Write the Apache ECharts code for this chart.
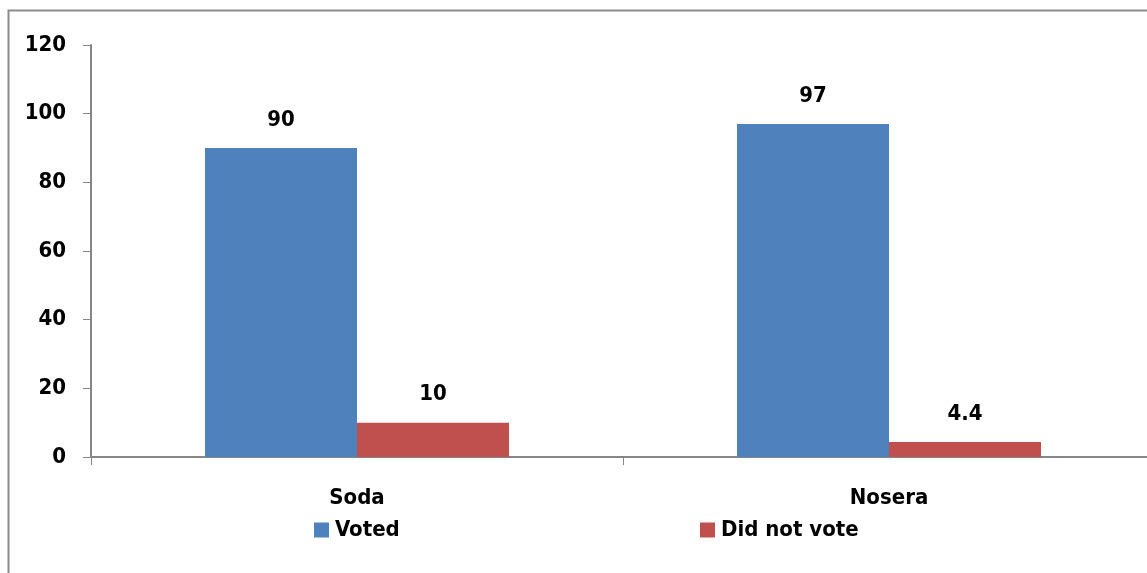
<!DOCTYPE html>
<html><head><meta charset="utf-8">
<script src="https://cdn.jsdelivr.net/npm/echarts@6/dist/echarts.min.js"></script>
<style>html,body{margin:0;padding:0;background:#fff;overflow:hidden}#c{width:1155px;height:573px}</style>
</head><body><div id="c"></div>
<script>
const categories = ['Soda', 'Nosera'];
const seriesNames = ['Voted', 'Did not vote'];
const voted = [90, 97];
const didNotVote = [10, 4.4];
const yTicks = [0, 20, 40, 60, 80, 100, 120];

const FONT = "'DejaVu Sans Condensed', 'Liberation Sans Narrow', 'Liberation Sans', sans-serif";
const chart = echarts.init(document.getElementById('c'));
const labelStyle = {show: true, position: 'top', distance: 17, color: '#000', fontFamily: FONT, fontWeight: 'bold', fontSize: 22};
const legendText = {fontFamily: FONT, fontWeight: 'bold', fontSize: 22, color: '#000', padding: [0,0,0,1]};
chart.setOption({
  animation: false,
  textStyle: {fontFamily: FONT},
  graphic: [{type: 'rect', shape: {x: 8.5, y: 10.5, width: 1200, height: 600}, style: {fill: 'none', stroke: '#8c8c8c', lineWidth: 2}}],
  legend: [
    {data: [seriesNames[0]], left: 314, top: 519, padding: 0, itemWidth: 15, itemHeight: 15, itemGap: 6, icon: 'rect', textStyle: legendText},
    {data: [seriesNames[1]], left: 700, top: 519, padding: 0, itemWidth: 15, itemHeight: 15, itemGap: 6, icon: 'rect', textStyle: legendText}
  ],
  grid: {left: 91, right: 0, top: 45, height: 412, containLabel: false},
  xAxis: {
    type: 'category', data: categories,
    axisLine: {lineStyle: {color: '#868686', width: 2}},
    axisTick: {show: true, length: 8, lineStyle: {color: '#868686', width: 1}},
    axisLabel: {color: '#000', fontFamily: FONT, fontWeight: 'bold', fontSize: 22, margin: 30}
  },
  yAxis: {
    type: 'value', min: yTicks[0], max: yTicks[yTicks.length - 1], interval: 20,
    splitLine: {show: false},
    axisLine: {show: true, lineStyle: {color: '#868686', width: 2}},
    axisTick: {show: true, length: 8, lineStyle: {color: '#868686', width: 1}},
    axisLabel: {color: '#000', fontFamily: FONT, fontWeight: 'bold', fontSize: 22, margin: 25}
  },
  series: [
    {name: seriesNames[0], type: 'bar', data: voted, barWidth: 152, barGap: '0%', itemStyle: {color: '#4F81BD'}, label: labelStyle},
    {name: seriesNames[1], type: 'bar', data: didNotVote, barWidth: 152, barGap: '0%', itemStyle: {color: '#C0504D'}, label: labelStyle}
  ]
});
</script></body></html>
